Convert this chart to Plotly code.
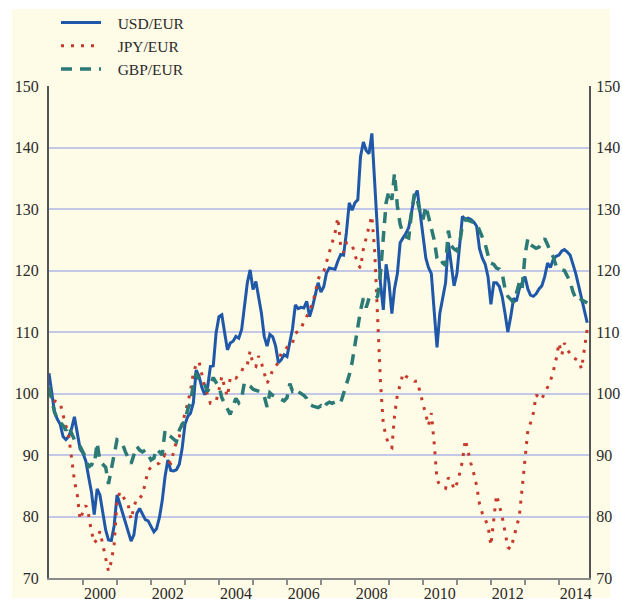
import pandas as pd
import plotly.graph_objects as go

# Monthly observations, Jan 1999 .. Nov 2014 (index, Q1-1999 = 100)
months = pd.date_range("1999-01-01", periods=191, freq="MS")

usd_eur = [
    103.3, 100.0, 97.0, 95.8, 95.0, 93.0, 92.5, 93.0, 94.3, 96.2, 93.3, 91.0,   # 1999
    90.3, 89.0, 86.5, 84.0, 80.3, 84.5, 83.5, 80.5, 77.8, 76.2, 76.1, 78.5,     # 2000
    83.5, 82.0, 80.5, 79.0, 77.5, 76.0, 77.0, 80.5, 81.3, 80.5, 79.5, 79.3,     # 2001
    78.5, 77.5, 78.0, 79.8, 82.5, 86.5, 89.2, 87.5, 87.4, 87.6, 88.5, 91.0,     # 2002
    95.0, 96.3, 96.8, 98.5, 103.8, 102.8, 101.0, 99.8, 101.0, 104.4, 104.5, 109.8,  # 2003
    112.5, 112.8, 110.0, 107.1, 108.2, 108.5, 109.3, 109.0, 110.4, 114.7, 118.0, 120.1,  # 2004
    116.9, 118.2, 115.8, 113.1, 109.3, 107.7, 109.6, 109.2, 107.7, 105.0, 105.5, 106.3,  # 2005
    106.0, 108.5, 110.5, 114.4, 113.8, 114.0, 113.9, 115.0, 112.5, 114.0, 116.0, 118.0,  # 2006
    116.5, 117.4, 119.6, 120.4, 120.3, 120.2, 121.5, 122.6, 122.5, 126.1, 131.0, 129.8,  # 2007
    131.0, 131.5, 138.5, 140.9, 139.5, 139.0, 142.3, 133.0, 126.0, 118.0, 113.6, 121.0,  # 2008
    118.0, 113.0, 117.0, 119.5, 124.5, 125.3, 126.0, 127.0, 129.5, 132.0, 133.0, 129.5,  # 2009
    126.0, 122.0, 120.5, 119.5, 113.5, 107.5, 113.0, 115.5, 118.0, 124.5, 121.0, 117.5,  # 2010
    119.5, 124.0, 128.8, 128.3, 128.5, 128.3, 127.9, 127.2, 123.5, 122.0, 121.0, 119.0,  # 2011
    114.5, 118.0, 118.0, 117.4, 115.8, 113.0, 110.0, 112.5, 115.5, 115.0, 117.0, 118.0,  # 2012
    119.0, 117.0, 116.0, 115.8, 116.2, 117.0, 117.5, 119.0, 121.2, 120.5, 121.8, 122.3,  # 2013
    122.5, 123.2, 123.4, 123.0, 122.5, 121.0, 119.5, 117.5, 115.3, 113.3, 111.5,        # 2014
]

jpy_eur = [
    100.3, 99.2, 98.8, 98.7, 98.5, 96.5, 94.9, 93.0, 89.5, 85.8, 83.5, 79.5,    # 1999
    80.8, 81.8, 80.3, 77.6, 75.7, 76.3, 77.6, 75.5, 73.0, 71.1, 72.7, 75.5,     # 2000
    82.5, 84.0, 83.5, 82.5, 81.9, 79.5, 81.5, 83.0, 83.0, 83.5, 85.5, 87.5,     # 2001
    88.0, 88.2, 88.5, 88.7, 89.5, 90.0, 89.0, 88.7, 90.5, 92.2, 93.0, 95.0,     # 2002
    96.8, 98.5, 100.5, 103.3, 104.7, 105.2, 103.3, 101.0, 99.8, 98.4, 98.5, 98.7,  # 2003
    100.6, 102.8, 101.1, 99.5, 102.5, 102.8, 102.5, 103.0, 103.6, 104.7, 104.7, 106.9,  # 2004
    104.7, 104.4, 106.1, 105.0, 103.4, 101.7, 102.5, 103.9, 104.5, 105.0, 106.6, 106.9,  # 2005
    107.5, 108.2, 108.2, 109.8, 110.1, 110.5, 111.7, 112.5, 113.4, 114.7, 116.3, 118.5,  # 2006
    119.6, 119.9, 121.3, 122.9, 124.5, 126.1, 128.6, 124.0, 122.9, 124.5, 124.5, 124.2,  # 2007
    122.6, 121.0, 120.4, 123.5, 125.3, 127.0, 128.9, 123.0, 113.0, 102.0, 95.0, 93.0,    # 2008
    91.5, 91.2, 96.3, 99.8, 101.4, 103.3, 102.8, 102.5, 102.2, 102.0, 102.0, 100.3,      # 2009
    98.7, 96.5, 94.8, 96.8, 92.0, 86.0, 85.1, 84.9, 84.6, 86.3, 85.8, 84.4,             # 2010
    85.4, 87.1, 89.0, 92.5, 90.3, 88.6, 87.0, 85.0, 82.0, 80.5, 79.5, 78.5,             # 2011
    75.3, 79.5, 83.5, 81.8, 80.0, 77.5, 75.0, 74.7, 76.4, 78.0, 80.0, 84.5,             # 2012
    89.5, 94.0, 95.2, 96.8, 99.8, 99.3, 99.0, 100.3, 101.0, 102.0, 103.6, 105.5,        # 2013
    108.2, 106.3, 108.2, 107.1, 106.5, 105.8, 105.6, 105.3, 104.0, 107.0, 110.5,       # 2014
]

gbp_eur = [
    101.0, 98.5, 97.0, 95.8, 95.3, 94.8, 94.0, 94.8, 93.5, 92.5, 92.0, 91.4,    # 1999
    90.5, 89.5, 88.0, 88.5, 88.3, 92.0, 89.0, 88.4, 88.0, 85.3, 88.0, 90.5,     # 2000
    92.5, 92.3, 91.8, 90.5, 89.5, 88.6, 90.0, 91.4, 90.8, 90.5, 90.8, 90.0,     # 2001
    89.2, 89.5, 91.0, 90.5, 90.0, 94.0, 93.3, 93.0, 92.5, 92.2, 94.0, 95.0,     # 2002
    95.5, 97.5, 98.5, 101.5, 103.3, 102.2, 101.8, 101.4, 100.3, 101.5, 102.6, 101.8,  # 2003
    101.2, 99.3, 98.5, 97.5, 96.6, 98.0, 99.2, 98.5, 99.3, 101.8, 101.5, 101.2,   # 2004
    100.7, 100.5, 100.4, 100.2, 99.6, 97.8, 100.1, 99.7, 99.5, 99.3, 99.0, 98.8,  # 2005
    99.3, 101.6, 100.4, 100.8, 100.3, 100.0, 99.7, 99.2, 98.2, 98.0, 97.8, 97.7,  # 2006
    98.0, 97.5, 98.3, 98.6, 98.4, 98.6, 98.3, 98.5, 100.0, 101.5, 103.0, 105.0,   # 2007
    108.0, 110.5, 113.5, 115.5, 114.0, 115.5, 115.5, 115.3, 115.8, 119.5, 125.0, 131.0,  # 2008
    133.0, 131.5, 135.8, 130.5, 127.5, 126.0, 125.5, 125.3, 129.5, 132.5, 131.5, 129.5,  # 2009
    128.3, 130.5, 128.8, 126.8, 125.0, 122.0, 121.0, 121.3, 120.8, 126.5, 124.0, 123.5,  # 2010
    123.2, 124.5, 127.5, 128.3, 128.2, 128.0, 127.8, 127.7, 126.5, 125.5, 124.3, 122.5,  # 2011
    121.2, 121.0, 120.4, 120.2, 119.5, 117.0, 115.8, 115.3, 114.8, 116.3, 118.0, 117.0,  # 2012
    122.5, 125.2, 124.2, 123.9, 123.6, 123.8, 124.5, 125.2, 124.2, 123.0, 122.2, 120.8,  # 2013
    120.5, 120.1, 120.0, 119.2, 118.2, 116.5, 115.5, 115.8, 115.2, 115.0, 114.7,        # 2014
]

series_names = ["USD/EUR", "JPY/EUR", "GBP/EUR"]
y_ticks = [70, 80, 90, 100, 110, 120, 130, 140, 150]
label_years = [2000, 2002, 2004, 2006, 2008, 2010, 2012, 2014]
tick_years = list(range(2000, 2015))

SERIF = "Liberation Serif, Times New Roman, serif"
CREAM = "#FEFBE6"
GRID = "#C3C8E8"
PAD = "\u00a0\u00a0\u00a0"
CLEAR = "rgba(0,0,0,0)"

fig = go.Figure()
fig.add_trace(go.Scatter(x=months, y=usd_eur, name=PAD + series_names[0], mode="lines",
                         line=dict(color="#1F58A8", width=3)))
fig.add_trace(go.Scatter(x=months, y=jpy_eur, name=PAD + series_names[1], mode="lines",
                         line=dict(color="#C63A2C", width=3, dash="3px,7px")))
fig.add_trace(go.Scatter(x=months, y=gbp_eur, name=PAD + series_names[2], mode="lines",
                         line=dict(color="#2B7A76", width=3.5, dash="11px,8px")))
# carrier for the right-hand axis
fig.add_trace(go.Scatter(x=[months[0]], y=[None], yaxis="y2", showlegend=False,
                         hoverinfo="skip", mode="lines"))

W, H = 622, 601
L, R, T, B = 49, 33, 86, 23
pw, ph = W - L - R, H - T - B

fig.add_shape(type="rect", xref="paper", yref="paper", layer="below",
              x0=(12 - L) / pw, x1=(610 - L) / pw,
              y0=((H - B) - 598) / ph, y1=((H - B) - 9) / ph,
              fillcolor=CREAM, line=dict(width=0))

axis_font = dict(family=SERIF, size=16, color="#2a2a2a")

fig.update_layout(
    width=W, height=H,
    margin=dict(l=L, r=R, t=T, b=B, pad=0, autoexpand=False),
    paper_bgcolor="white",
    plot_bgcolor=CLEAR,
    font=dict(family=SERIF, size=16, color="#2a2a2a"),
    showlegend=True,
    legend=dict(x=(56 - L) / pw, y=((H - B) - 6) / ph, xanchor="left", yanchor="top",
                bgcolor=CLEAR, font=dict(family=SERIF, size=15.5, color="#2a2a2a"),
                itemwidth=40, tracegroupgap=0),
    xaxis=dict(type="date", range=["1999-01-01", "2014-11-20"], automargin=False,
               tickmode="array",
               tickvals=[f"{y}-07-01" for y in label_years],
               ticktext=[str(y) for y in label_years],
               ticks="", ticklabelstandoff=0,
               showgrid=False, zeroline=False,
               showline=True, linecolor="#8c8c8c", linewidth=2,
               tickfont=axis_font,
               minor=dict(tickmode="array", tickvals=[f"{y}-01-01" for y in tick_years],
                          ticks="outside", ticklen=5, tickwidth=1.5, tickcolor="#8c8c8c",
                          showgrid=False)),
    yaxis=dict(range=[70, 150], tickmode="array", tickvals=y_ticks, automargin=False,
               showgrid=True, gridcolor=GRID, gridwidth=2, zeroline=False,
               showline=True, linecolor="#555555", linewidth=2,
               ticks="", ticklabelstandoff=5,
               tickfont=axis_font),
    yaxis2=dict(range=[70, 150], tickmode="array", tickvals=y_ticks, automargin=False,
                overlaying="y", side="right", showgrid=False, zeroline=False,
                showline=True, linecolor="#555555", linewidth=2,
                ticks="", ticklabelstandoff=2,
                tickfont=axis_font),
)

fig.write_html("out.html", config={"displayModeBar": False},
               post_script="document.body.style.margin='0px';")
